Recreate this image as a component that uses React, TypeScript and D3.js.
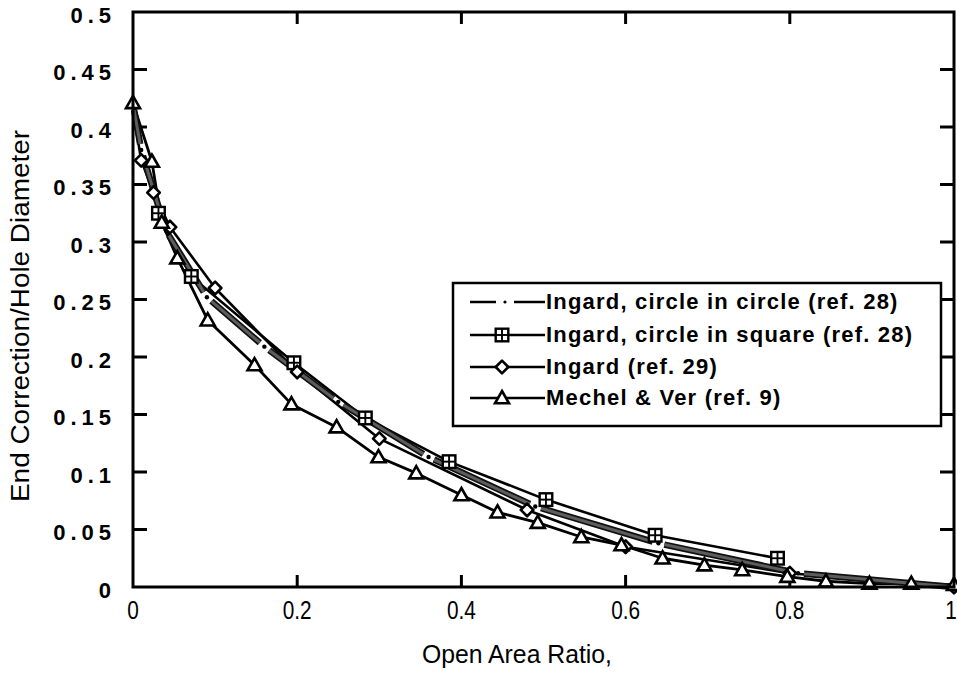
import React from "react";
import * as d3 from "d3";

// ---------- data ----------
const ccX = [0, 0.01, 0.04, 0.09, 0.16, 0.25, 0.36, 0.49, 0.64, 0.81, 1.0];
const ccY = [0.42, 0.38, 0.31, 0.252, 0.209, 0.161, 0.113, 0.07, 0.038, 0.012, 0.0];

const sqX = [0.031, 0.071, 0.196, 0.283, 0.385, 0.503, 0.636, 0.785];
const sqY = [0.325, 0.27, 0.195, 0.147, 0.109, 0.076, 0.045, 0.025];

const igX = [0, 0.01, 0.025, 0.045, 0.1, 0.2, 0.3, 0.48, 0.6, 0.8, 1.0];
const igY = [0.415, 0.371, 0.343, 0.313, 0.26, 0.187, 0.129, 0.067, 0.035, 0.012, 0.0];

const mvX = [0, 0.023, 0.035, 0.054, 0.091, 0.148, 0.193, 0.248, 0.299, 0.345, 0.4, 0.444, 0.493, 0.546, 0.595, 0.645, 0.696, 0.742, 0.797, 0.844, 0.897, 0.948, 1.0];
const mvY = [0.421, 0.37, 0.317, 0.286, 0.232, 0.193, 0.159, 0.139, 0.113, 0.099, 0.08, 0.065, 0.056, 0.0435, 0.0365, 0.025, 0.019, 0.0148, 0.009, 0.005, 0.003, 0.003, 0.002];

const seriesNames = [
  "Ingard, circle in circle (ref. 28)",
  "Ingard, circle in square (ref. 28)",
  "Ingard (ref. 29)",
  "Mechel & Ver (ref. 9)",
];

const yTicks = [0, 0.05, 0.1, 0.15, 0.2, 0.25, 0.3, 0.35, 0.4, 0.45, 0.5];
const yTickLabels = ["0", "0.05", "0.1", "0.15", "0.2", "0.25", "0.3", "0.35", "0.4", "0.45", "0.5"];
const xTicks = [0, 0.2, 0.4, 0.6, 0.8, 1];
const xTickLabels = ["0", "0.2", "0.4", "0.6", "0.8", "1"];

const xTitle = "Open Area Ratio,";
const yTitle = "End Correction/Hole Diameter";

// ---------- layout ----------
const W = 957;
const H = 674;
const x = d3.scaleLinear().domain([0, 1]).range([133, 954]);
const y = d3.scaleLinear().domain([0, 0.5]).range([587, 12]);

const sans = "'Liberation Sans', Arial, Helvetica, sans-serif";

const zip = (xs: number[], ys: number[]) => xs.map((v, i) => [v, ys[i]] as [number, number]);

const lineGen = d3
  .line<[number, number]>()
  .x((d) => x(d[0]))
  .y((d) => y(d[1]));

function Triangle({ cx, cy }: { cx: number; cy: number }) {
  const s = 7;
  return (
    <path
      d={`M${cx},${cy - s}L${cx + s},${cy + s * 0.75}L${cx - s},${cy + s * 0.75}Z`}
      fill="white"
      stroke="black"
      strokeWidth={2.6}
      strokeLinejoin="miter"
    />
  );
}

function SquareMk({ cx, cy }: { cx: number; cy: number }) {
  const s = 6.3;
  return (
    <g>
      <rect x={cx - s} y={cy - s} width={2 * s} height={2 * s} fill="white" stroke="black" strokeWidth={2.4} />
      <line x1={cx} x2={cx} y1={cy - s} y2={cy + s} stroke="black" strokeWidth={1.9} />
      <line x1={cx - s} x2={cx + s} y1={cy} y2={cy} stroke="black" strokeWidth={1.9} />
    </g>
  );
}

function Diamond({ cx, cy }: { cx: number; cy: number }) {
  const s = 6.3;
  return (
    <path
      d={`M${cx},${cy - s}L${cx + s},${cy}L${cx},${cy + s}L${cx - s},${cy}Z`}
      fill="white"
      stroke="black"
      strokeWidth={2.6}
      strokeLinejoin="round"
    />
  );
}

function DashDotSeries({ pts }: { pts: [number, number][] }) {
  const segs: React.ReactNode[] = [];
  for (let i = 0; i < pts.length - 1; i++) {
    const x1 = x(pts[i][0]);
    const y1 = y(pts[i][1]);
    const x2 = x(pts[i + 1][0]);
    const y2 = y(pts[i + 1][1]);
    const L = Math.hypot(x2 - x1, y2 - y1);
    const g = Math.min(6, L / 4);
    const ux = (x2 - x1) / L;
    const uy = (y2 - y1) / L;
    const a = [x1 + ux * g, y1 + uy * g];
    const b = [x2 - ux * g, y2 - uy * g];
    segs.push(
      <g key={"s" + i}>
        <line x1={a[0]} y1={a[1]} x2={b[0]} y2={b[1]} stroke="#111" strokeWidth={6.5} />
        <line x1={a[0]} y1={a[1]} x2={b[0]} y2={b[1]} stroke="#5d5d5d" strokeWidth={3} />
      </g>
    );
  }
  const dots = pts.slice(1, -1).map((p, i) => <circle key={"d" + i} cx={x(p[0])} cy={y(p[1])} r={2.2} fill="black" />);
  return (
    <g>
      {segs}
      {dots}
    </g>
  );
}

export default function App() {
  const cc = zip(ccX, ccY);
  const sq = zip(sqX, sqY);
  const ig = zip(igX, igY);
  const mv = zip(mvX, mvY);

  const legX = 453;
  const legY = 283;
  const rowY = [302, 335, 367, 398];

  return (
    <svg
      width={W}
      height={H}
      viewBox={`0 0 ${W} ${H}`}
      style={{ position: "absolute", left: 0, top: 0, background: "white", display: "block" }}
    >
      <rect x={0} y={0} width={W} height={H} fill="white" />

      {/* ticks */}
      {yTicks.slice(1, -1).map((t, i) => (
        <g key={"yt" + i}>
          <line x1={x(0)} x2={x(0) + 14} y1={y(t)} y2={y(t)} stroke="black" strokeWidth={3} />
          <line x1={x(1)} x2={x(1) - 14} y1={y(t)} y2={y(t)} stroke="black" strokeWidth={3} />
        </g>
      ))}
      {xTicks.slice(1, -1).map((t, i) => (
        <g key={"xt" + i}>
          <line x1={x(t)} x2={x(t)} y1={y(0)} y2={y(0) - 12} stroke="black" strokeWidth={3} />
          <line x1={x(t)} x2={x(t)} y1={y(0.5)} y2={y(0.5) + 12} stroke="black" strokeWidth={3} />
        </g>
      ))}

      {/* data lines */}
      <path d={lineGen(mv) || ""} fill="none" stroke="black" strokeWidth={2.8} strokeLinejoin="round" />
      <path d={lineGen(ig) || ""} fill="none" stroke="black" strokeWidth={2.6} strokeLinejoin="round" />
      <path d={lineGen(sq) || ""} fill="none" stroke="black" strokeWidth={2.6} strokeLinejoin="round" />
      <DashDotSeries pts={cc} />

      {/* markers */}
      {sq.map((p, i) => (
        <SquareMk key={"sq" + i} cx={x(p[0])} cy={y(p[1])} />
      ))}
      {ig.slice(1).map((p, i) => (
        <Diamond key={"ig" + i} cx={x(p[0])} cy={y(p[1])} />
      ))}
      {mv.map((p, i) => (
        <Triangle key={"mv" + i} cx={x(p[0])} cy={y(p[1])} />
      ))}

      {/* frame */}
      <rect x={x(0)} y={y(0.5)} width={x(1) - x(0)} height={y(0) - y(0.5)} fill="none" stroke="black" strokeWidth={3} />

      {/* y tick labels */}
      {yTicks.map((t, i) => (
        <text
          key={"yl" + i}
          x={116}
          y={y(t) + 5}
          textAnchor="end"
          dominantBaseline="middle"
          fontFamily={sans}
          fontWeight="bold"
          fontSize={22}
          letterSpacing={5}
        >
          {yTickLabels[i]}
        </text>
      ))}

      {/* x tick labels */}
      {xTicks.map((t, i) => (
        <text
          key={"xl" + i}
          transform={`translate(${i === xTicks.length - 1 ? x(t) - 3 : x(t)},612) scale(0.8,1)`}
          textAnchor="middle"
          dominantBaseline="middle"
          fontFamily={sans}
          fontSize={26}
        >
          {xTickLabels[i]}
        </text>
      ))}

      {/* axis titles */}
      <text
        x={517}
        y={656}
        textAnchor="middle"
        dominantBaseline="middle"
        fontFamily={sans}
        fontSize={25}
        textLength={190}
        lengthAdjust="spacingAndGlyphs"
      >
        {xTitle}
      </text>
      <text
        transform={`translate(22,316) rotate(-90)`}
        textAnchor="middle"
        dominantBaseline="middle"
        fontFamily={sans}
        fontSize={25}
        textLength={372}
        lengthAdjust="spacingAndGlyphs"
      >
        {yTitle}
      </text>

      {/* legend */}
      <rect x={legX} y={legY} width={488} height={143} fill="white" stroke="black" strokeWidth={2.5} />
      <line x1={470} x2={496} y1={rowY[0]} y2={rowY[0]} stroke="black" strokeWidth={2.5} />
      <circle cx={505} cy={rowY[0]} r={1.6} fill="black" />
      <line x1={514} x2={545} y1={rowY[0]} y2={rowY[0]} stroke="black" strokeWidth={2.5} />
      {[1, 2, 3].map((r) => (
        <line key={"ll" + r} x1={470} x2={545} y1={rowY[r]} y2={rowY[r]} stroke="black" strokeWidth={2.5} />
      ))}
      <SquareMk cx={502} cy={rowY[1]} />
      <Diamond cx={502} cy={rowY[2]} />
      <Triangle cx={502} cy={rowY[3]} />
      {seriesNames.map((n, i) => (
        <text
          key={"lt" + i}
          x={546}
          y={rowY[i] + 1}
          dominantBaseline="middle"
          fontFamily={sans}
          fontWeight="bold"
          fontSize={22}
          letterSpacing={1.2}
        >
          {n}
        </text>
      ))}
    </svg>
  );
}
